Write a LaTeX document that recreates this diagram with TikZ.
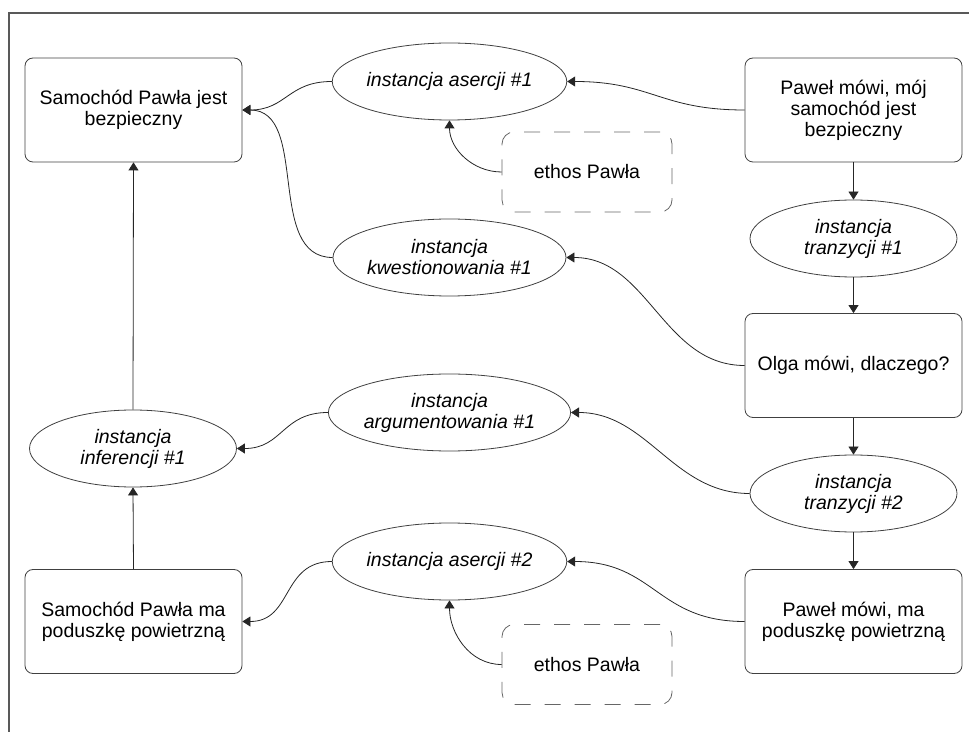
\documentclass[tikz,border=0pt]{standalone}
\usepackage{fontspec}
\setmainfont{Liberation Sans}
\usepackage{tikz}
\usetikzlibrary{shapes.geometric,arrows.meta}
\newcommand{\nodesize}{\fontsize{9.75}{10.5}\selectfont}

\begin{document}
\begin{tikzpicture}[x=0.5pt,y=-0.5pt,
    >={Triangle[length=4pt,width=5pt]},
    box/.style={draw=black!75, rounded corners=4pt, minimum width=108.5pt,
      minimum height=52pt, inner sep=0pt, align=center, font=\nodesize},
    oval/.style={ellipse, draw=black!75, minimum width=103.5pt,
      minimum height=38.5pt, inner sep=0pt, align=center, font=\nodesize\itshape},
    ethosbox/.style={draw=black!60, dash pattern=on 8pt off 7pt,
      rounded corners=6pt, minimum width=85pt, minimum height=40pt, font=\nodesize},
    link/.style={->, draw=black!85, line width=0.4pt}]
   \useasboundingbox (0,0) rectangle (969,732);
   \draw[black!65, line width=0.8pt] (969,13) -- (9,13) -- (9,732);

   % left column
   \node[box] (b1) at (133.5,110) {Samochód Pawła jest\\bezpieczny};
   \node[oval] (e6) at (133,448.5) {instancja\\inferencji \#1};
   \node[box] (b5) at (133.5,621.5) {Samochód Pawła ma\\poduszkę powietrzną};

   % middle column
   \node[oval] (e1) at (449.5,81.5) {instancja asercji \#1};
   \node[ethosbox] (ethos1) at (587,172) {ethos Pawła};
   \node[oval] (e2) at (449.5,257.5) {instancja\\kwestionowania \#1};
   \node[oval] (e5) at (449.5,412.5) {instancja\\argumentowania \#1};
   \node[oval] (e7) at (449.5,561.5) {instancja asercji \#2};
   \node[ethosbox] (ethos2) at (587,664.5) {ethos Pawła};

   % right column
   \node[box] (b2) at (853.5,110) {Paweł mówi, mój\\samochód jest\\bezpieczny};
   \node[oval] (e3) at (853.5,238.5) {instancja\\tranzycji \#1};
   \node[box] (b3) at (853.5,365.5) {Olga mówi, dlaczego?};
   \node[oval] (e4) at (853.5,493.5) {instancja\\tranzycji \#2};
   \node[box] (b4) at (853.5,621.5) {Paweł mówi, ma\\poduszkę powietrzną};

   \draw[link] (b2.south) -- (e3.north);
   \draw[link] (e3.south) -- (b3.north);
   \draw[link] (b3.south) -- (e4.north);
   \draw[link] (e4.south) -- (b4.north);
   \draw[link] (e6.north) -- (b1.south);
   \draw[link] (b5.north) -- (e6.south);

   \draw[link] (b2.west) to[out=180,in=0,looseness=1.2] (e1.east);
   \draw[link] (e1.west) to[out=180,in=0,looseness=1.2] (b1.east);
   \draw[link] (ethos1.west) to[out=180,in=-90] (e1.south);
   \draw[link] (e2.west) to[out=180,in=0] (b1.east);
   \draw[link] (b3.west) to[out=180,in=0] (e2.east);
   \draw[link] (e4.west) to[out=180,in=0] (e5.east);
   \draw[link] (e5.west) to[out=180,in=0,looseness=1.2] (e6.east);
   \draw[link] (b4.west) to[out=180,in=0,looseness=1.2] (e7.east);
   \draw[link] (e7.west) to[out=180,in=0,looseness=1.2] (b5.east);
   \draw[link] (ethos2.west) to[out=180,in=-90] (e7.south);
\end{tikzpicture}
\end{document}
